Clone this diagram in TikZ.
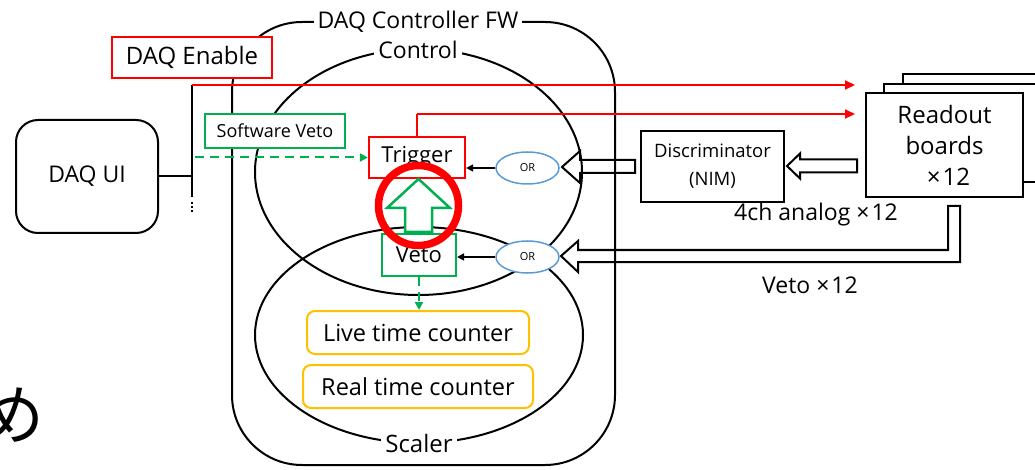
\documentclass[tikz,border=0pt]{standalone}
\usepackage{fontspec}
\setmainfont{Open Sans}
\newfontfamily\cjk{Noto Sans CJK JP}
\usetikzlibrary{shapes.geometric,arrows.meta}
\definecolor{offred}{HTML}{FF0000}
\definecolor{offgreen}{HTML}{00B050}
\definecolor{offblue}{HTML}{5B9BD5}
\definecolor{offorange}{HTML}{FFC000}
\newcommand{\fs}[1]{\fontsize{#1}{#1}\selectfont}
\newcommand{\tw}{×\kern2pt 12}
\tikzset{
  base/.style={line width=2pt},
  lbl/.style={fill=white, inner sep=4pt},
  redbox/.style={draw=offred, line width=2.2pt, fill=white, inner sep=0pt},
  greenbox/.style={draw=offgreen, line width=2pt, fill=white, inner sep=0pt},
  orangebox/.style={draw=offorange, line width=2pt, fill=white, rounded corners=8pt, inner sep=0pt},
  blackbox/.style={draw, line width=2pt, fill=white, inner sep=0pt},
  orell/.style={draw=offblue, line width=1.5pt, ellipse, fill=white, minimum width=63pt, minimum height=32pt, inner sep=0pt, font=\fs{11}},
  redarrow/.style={draw=offred, line width=2pt, -{Triangle[length=10pt,width=9pt]}},
  smallarrow/.style={line width=1.6pt, -{Triangle[length=7pt,width=7pt]}},
  greendash/.style={draw=offgreen, line width=2pt, dash pattern=on 9pt off 6pt, -{Triangle[length=8pt,width=8pt]}},
  hollow/.style={draw, line width=2pt, line join=miter},
}
\begin{document}
\begin{tikzpicture}[x=1pt,y=-1pt,base]
\useasboundingbox (0,0) rectangle (1035,470);

% DAQ Controller FW frame
\node[draw, line width=2pt, rounded corners=70pt, minimum width=383pt, minimum height=443pt, inner sep=0pt] (fw) at (423.5,243.5) {};
% ellipses
\node[draw, line width=2pt, ellipse, minimum width=327pt, minimum height=246pt, inner sep=0pt] (ctrl) at (418.5,172) {};
\node[draw, line width=2pt, ellipse, minimum width=328pt, minimum height=216pt, inner sep=0pt] (scal) at (419,335) {};
\node[lbl, font=\fs{23}] (fwlbl) at (418,22) {DAQ Controller FW};
\node[lbl, font=\fs{23}] (ctrllbl) at (418,50) {Control};
\node[lbl, font=\fs{24}] (scallbl) at (419,443) {Scaler};

% hollow arrows (no fill)
\draw[hollow] (857,159.5) -- (800,159.5) -- (800,153.5) -- (787,166) -- (800,178.5) -- (800,172.5) -- (857,172.5) -- cycle;
\draw[hollow] (635,160) -- (580,160) -- (580,151) -- (562,167) -- (580,183) -- (580,173) -- (635,173) -- cycle;
\draw[hollow] (948,206) -- (960,206) -- (960,262) -- (578,262) -- (578,272) -- (561,256) -- (578,241) -- (578,250) -- (948,250) -- cycle;

% DAQ UI and bus
\node[draw, line width=2pt, rounded corners=22pt, minimum width=142pt, minimum height=113pt, inner sep=0pt, font=\fs{23}] (ui) at (87,176.5) {DAQ UI};
\coordinate (bustop) at (192,85);
\coordinate (busbot) at (192,197);
\coordinate (busdots) at (192,213);
\draw (ui.east) -- (ui.east -| bustop);
\draw (bustop) -- (busbot);
\draw[line width=2pt, dash pattern=on 2pt off 2pt] (busbot) ++(0,5) -- (busdots);

% Readout boards
\draw (884,93) -- (884,84) -- (1035,84);
\draw (903,84) -- (903,74) -- (1035,74);
\node[blackbox, minimum width=157pt, minimum height=104pt, align=center, font=\fontsize{24}{31}\selectfont] (rb) at (944.5,145) {Readout\\boards\\\hspace{8pt}\tw};
\draw (rb.east |- 0,182) -- (1035,182);
\coordinate (rbend1) at (855,85);
\coordinate (rbend2) at (855,114);

% red lines
\draw[redarrow] (bustop) -- (rbend1);

% boxes
\node[redbox, minimum width=160pt, minimum height=41pt, font=\fs{24}] (en) at (192,57.5) {DAQ Enable};
\node[greenbox, minimum width=140pt, minimum height=34pt, font=\fs{18}] (sw) at (275,131) {Software Veto};
\node[redbox, minimum width=96pt, minimum height=41pt, font=\fs{22}] (trig) at (417,157.5) {Trigger};
\node[greenbox, minimum width=74pt, minimum height=42pt, font=\fs{22}] (veto) at (419,255) {Veto};
\node[blackbox, minimum width=143pt, minimum height=71pt, align=center, font=\fontsize{18.5}{28}\selectfont] (disc) at (712.5,166.5) {Discriminator\\(NIM)};
\node[orangebox, minimum width=222pt, minimum height=43pt, font=\fs{23.5}] (live) at (418,332.5) {Live time counter};
\node[orangebox, minimum width=230pt, minimum height=43pt, font=\fs{23.5}] (real) at (418,386.5) {Real time counter};

\coordinate (trigup) at (417,114);
\draw[draw=offred, line width=2pt] (trig.north -| trigup) -- (trigup);
\draw[redarrow] (trigup) -- (rbend2);

% OR nodes
\node[orell] (or1) at (527.5,168) {OR};
\node[orell] (or2) at (527.5,257) {OR};
\draw[smallarrow] (or1.west) -- (or1.west -| trig.east);
\draw[smallarrow] (or2.west) -- (or2.west -| veto.east);

% green dashed
\coordinate (swstart) at (195,157.5);
\draw[greendash] (swstart) -- (trig.west);
\draw[greendash] (veto.south) -- (veto.south |- live.north);

% green block arrow
\draw[draw=offgreen, line width=2.5pt, fill=white, line join=miter] (405,232) -- (405,208) -- (387,208) -- (418.5,179) -- (450,208) -- (432,208) -- (432,232) -- cycle;
% red circle
\node[draw=offred, line width=7.5pt, circle, minimum size=80pt, inner sep=0pt] (hl) at (418.5,205.5) {};

% labels
\node[font=\fs{23}] (lab4ch) at (816,215) {4ch analog \tw};
\node[font=\fs{23}] (labveto) at (810,285) {Veto \tw};

% Japanese fragment
\node[font=\cjk\fs{66}, inner sep=0pt] (jp) at (12,415) {め};
\end{tikzpicture}
\end{document}
